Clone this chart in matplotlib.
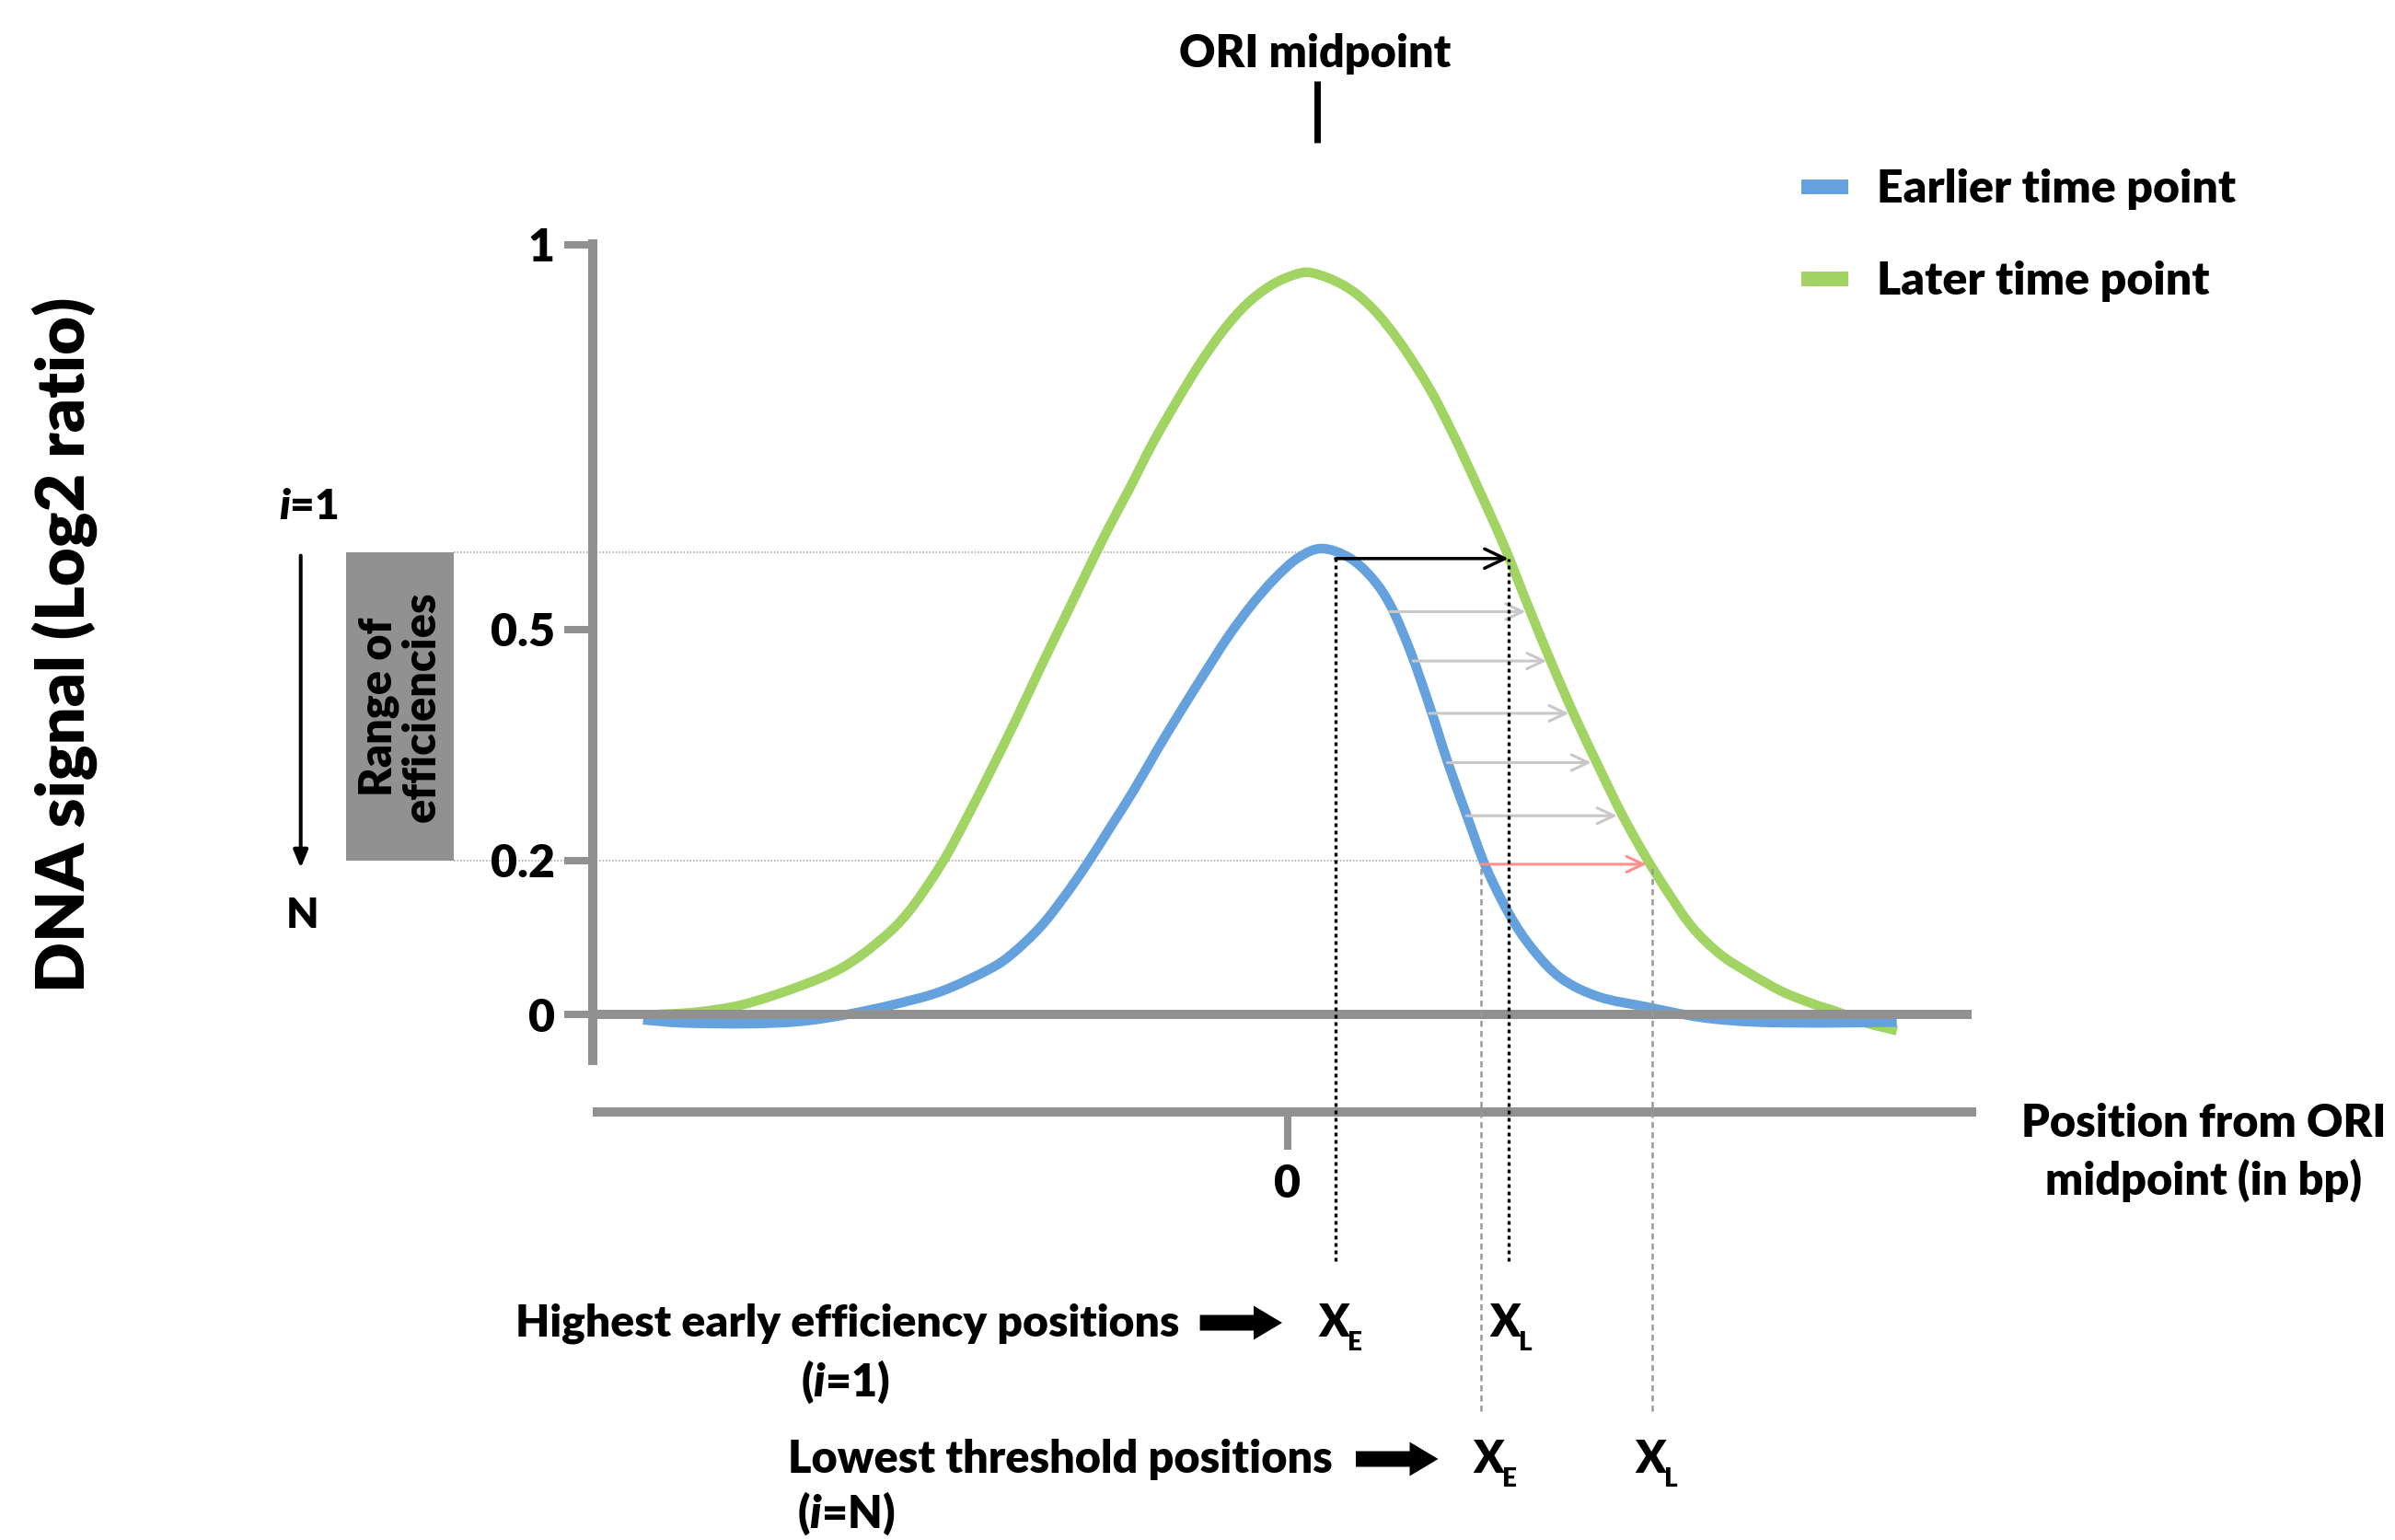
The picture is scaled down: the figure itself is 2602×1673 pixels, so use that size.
"""Schematic: DNA signal around an ORI midpoint at an early and a late time point."""

import matplotlib

matplotlib.use("Agg")
import matplotlib.pyplot as plt
import matplotlib.transforms as mtransforms
from matplotlib.lines import Line2D
from matplotlib.path import Path
from matplotlib.patches import FancyArrow, FancyArrowPatch, PathPatch, Rectangle

# ---- values (x: position from ORI midpoint, arbitrary units)
early_x = [-4.220, -3.959, -3.528, -3.190, -2.883, -2.576, -2.268, -1.960, -1.808,
           -1.622, -1.470, -1.315, -1.161, -1.008, -0.856, -0.700, -0.548, -0.392,
           -0.239, -0.085, 0.069, 0.223, 0.404, 0.560, 0.681, 0.806, 0.928, 1.052,
           1.175, 1.296, 1.451, 1.603, 1.790, 2.035, 2.343, 2.712, 3.079, 3.542, 3.988]
early_y = [-0.007, -0.011, -0.012, -0.009, 0.000, 0.013, 0.030, 0.058, 0.078,
           0.113, 0.151, 0.195, 0.243, 0.291, 0.343, 0.394, 0.442, 0.490,
           0.531, 0.566, 0.593, 0.605, 0.593, 0.565, 0.528, 0.470, 0.401, 0.325,
           0.257, 0.192, 0.130, 0.085, 0.047, 0.023, 0.010, -0.004, -0.010, -0.011, -0.010]

late_x = [-4.122, -3.869, -3.562, -3.190, -2.914, -2.670, -2.483, -2.268, -2.115,
          -1.930, -1.776, -1.622, -1.470, -1.346, -1.193, -1.038, -0.886, -0.730,
          -0.579, -0.423, -0.271, -0.116, 0.036, 0.160, 0.374, 0.560, 0.741, 0.928,
          1.082, 1.235, 1.420, 1.573, 1.728, 1.880, 2.035, 2.188, 2.343, 2.495,
          2.650, 2.832, 3.019, 3.234, 3.449, 3.604, 3.788, 3.988]
late_y = [0.000, 0.003, 0.013, 0.037, 0.061, 0.096, 0.133, 0.195, 0.250,
          0.322, 0.384, 0.449, 0.511, 0.562, 0.624, 0.682, 0.741, 0.795,
          0.844, 0.888, 0.922, 0.946, 0.960, 0.963, 0.946, 0.916, 0.871, 0.813,
          0.754, 0.689, 0.607, 0.531, 0.456, 0.387, 0.322, 0.260, 0.205, 0.157,
          0.113, 0.078, 0.054, 0.030, 0.013, 0.003, -0.011, -0.021]

# efficiency thresholds i=1..N and where each one crosses the early / late curve
thr_y = [0.592, 0.523, 0.459, 0.391, 0.327, 0.258, 0.195]
thr_xe = [0.313, 0.667, 0.820, 0.928, 1.045, 1.169, 1.266]
thr_xl = [1.445, 1.558, 1.697, 1.842, 1.989, 2.157, 2.349]
eff_range = [0.2, 0.6]
ori_x = 0.19

y_ticks = [0, 0.2, 0.5, 1]
y_ticklabels = ["0", "0.2", "0.5", "1"]
x_ticks = [0]
x_ticklabels = ["0"]
series_labels = ["Earlier time point", "Later time point"]

W, H, DPI = 2602, 1673, 100
BLUE = "#65a2dd"
GREEN = "#a2d463"
AXGRAY = "#919191"
LIGHT = "#c8c8c8"
RED = "#ff8e8e"
WEIGHT = "heavy"

plt.rcParams["font.family"] = ["Lato", "DejaVu Sans"]
plt.rcParams["font.weight"] = WEIGHT
plt.rcParams["mathtext.fontset"] = "custom"
plt.rcParams["mathtext.rm"] = "Lato:heavy"
plt.rcParams["mathtext.it"] = "Lato:italic:heavy"


def smooth(xs, ys):
    """Cubic path through the read points (Catmull-Rom handles)."""
    pts = list(zip(xs, ys))
    verts, codes = [pts[0]], [Path.MOVETO]
    n = len(pts)
    for i in range(n - 1):
        p0, p1 = pts[max(i - 1, 0)], pts[i]
        p2, p3 = pts[i + 1], pts[min(i + 2, n - 1)]
        c1 = (p1[0] + (p2[0] - p0[0]) / 6, p1[1] + (p2[1] - p0[1]) / 6)
        c2 = (p2[0] - (p3[0] - p1[0]) / 6, p2[1] - (p3[1] - p1[1]) / 6)
        verts += [c1, c2, p2]
        codes += [Path.CURVE4] * 3
    return Path(verts, codes)


fig = plt.figure(figsize=(W / DPI, H / DPI), dpi=DPI)
ax = fig.add_axes([0, 0, 1, 1])
ax.set_xlim(-8.431, 7.250)
ax.set_ylim(-0.6826, 1.3174)
ax.patch.set_visible(False)
# image pixels from the top-left corner, used for the free annotations
px = mtransforms.Affine2D().scale(1 / W, -1 / H).translate(0, 1) + fig.transFigure

# axes
for s in ("top", "right"):
    ax.spines[s].set_visible(False)
ax.spines["left"].set_position(("data", -4.547))
ax.spines["left"].set_bounds(-0.066, 1.0066)
ax.spines["bottom"].set_position(("data", -0.127))
ax.spines["bottom"].set_bounds(-4.547, 4.507)
for s in ("left", "bottom"):
    ax.spines[s].set_linewidth(7.2)
    ax.spines[s].set_color(AXGRAY)
    ax.spines[s].set_capstyle("butt")
ax.set_yticks(y_ticks, y_ticklabels)
ax.set_xticks(x_ticks, x_ticklabels)
ax.tick_params(axis="y", direction="out", length=22, width=5.8, color=AXGRAY, pad=8, labelsize=36)
ax.tick_params(axis="x", direction="out", length=29.5, width=5.8, color=AXGRAY, pad=11, labelsize=36)

# curves and zero line
ax.add_patch(PathPatch(smooth(late_x, late_y), fill=False, edgecolor=GREEN, lw=7.5,
                       capstyle="butt", zorder=2))
ax.add_patch(PathPatch(smooth(early_x, early_y), fill=False, edgecolor=BLUE, lw=7.5,
                       capstyle="butt", zorder=3))
ax.hlines(0, -4.547, 4.478, color=AXGRAY, lw=7.2, zorder=4)

# threshold range box and guide lines
ax.add_patch(Rectangle((-6.165, eff_range[0]), 0.705, eff_range[1] - eff_range[0],
                       color=AXGRAY, lw=0, zorder=2))
ax.text(-5.8125, sum(eff_range) / 2, "Range of\nefficiencies", rotation=90,
        ha="center", va="center", fontsize=35, linespacing=1.05)
ax.hlines(eff_range, -5.46, [thr_xe[-1], 0.40], colors="#a0a0a0", lw=1.1,
          linestyles=(0, (1, 1.3)), zorder=1)

for i, (y, xe, xl) in enumerate(zip(thr_y, thr_xe, thr_xl)):
    if i == 0:
        color, lw, style = "black", 2.5, "->,head_length=15.8,head_width=7.6"
    elif i == len(thr_y) - 1:
        color, lw, style = RED, 2.2, "->,head_length=13,head_width=6.1"
    else:
        color, lw, style = LIGHT, 2.2, "->,head_length=13,head_width=6.1"
    ax.add_patch(FancyArrowPatch((xe, y), (xl, y), arrowstyle=style, mutation_scale=1,
                                 shrinkA=0, shrinkB=0, color=color, lw=lw, zorder=5))

ax.vlines([thr_xe[0], thr_xl[0]], -0.320, thr_y[0], colors="black", lw=2.4,
          linestyles=(0, (1.2, 1.2)), zorder=6)
ax.vlines([thr_xe[-1], 2.386], -0.515, thr_y[-1], colors="#999999", lw=1.8,
          linestyles=(0, (2.6, 1.8)), zorder=6)

# ORI midpoint marker
ax.vlines(ori_x, 1.132, 1.212, color="black", lw=5, zorder=3)
ax.text(1429, 72.7, "ORI midpoint", transform=px, ha="center", va="baseline", fontsize=35)

# legend
handles = [Line2D([], [], color=BLUE, lw=11.5, solid_capstyle="butt"),
           Line2D([], [], color=GREEN, lw=11.5, solid_capstyle="butt")]
ax.legend(handles, series_labels, loc="upper left", bbox_to_anchor=(1957 / W, 1 - 183 / H),
          bbox_transform=fig.transFigure, frameon=False, fontsize=36, handlelength=1.02,
          handletextpad=0.62, labelspacing=1.1, borderpad=0, borderaxespad=0)

# axis titles
ax.text(70, 700, "DNA signal (Log2 ratio)", transform=px, rotation=90, ha="center",
        va="center", fontsize=52)
ax.text(2394, 1235, "Position from ORI", transform=px, ha="center", va="baseline", fontsize=35)
ax.text(2394, 1298, "midpoint (in bp)", transform=px, ha="center", va="baseline", fontsize=35)

# i = 1 .. N scale
ax.text(335, 550, "$i$=1", transform=px, ha="center", va="center", fontsize=33)
ax.text(329, 995, "N", transform=px, ha="center", va="center", fontsize=33)
ax.add_patch(FancyArrowPatch((326.7, 603.6), (326.7, 943), transform=px,
                             arrowstyle="-|>,head_length=11.5,head_width=4.7", mutation_scale=1,
                             shrinkA=0, shrinkB=0, color="black", lw=2.9))

# position labels under the plot
ax.text(1281, 1452, "Highest early efficiency positions", transform=px, ha="right",
        va="baseline", fontsize=34.7)
ax.text(870, 1517, "($i$=1)", transform=px, ha="left", va="baseline", fontsize=35)
ax.text(1448, 1600, "Lowest threshold positions", transform=px, ha="right",
        va="baseline", fontsize=35)
ax.text(866, 1660, "($i$=N)", transform=px, ha="left", va="baseline", fontsize=35)
for x0, x1, yc in ((1303.6, 1393, 1437), (1473, 1562.5, 1585)):
    ax.add_patch(FancyArrow(x0, yc, x1 - x0, 0, width=17, head_width=37, head_length=31,
                            length_includes_head=True, transform=px, color="black", lw=0))


def x_label(xc, base, sub):
    ax.text(xc, base, "X", transform=px, ha="center", va="baseline", fontsize=35)
    ax.annotate(sub, xy=(xc, base), xycoords=px, xytext=(10.5, -10.5),
                textcoords="offset points", ha="left", va="baseline", fontsize=20)


x_label(1449, 1452, "E")
x_label(1635, 1452, "L")
x_label(1617, 1600, "E")
x_label(1793, 1600, "L")

fig.savefig("out.png", dpi=DPI)
